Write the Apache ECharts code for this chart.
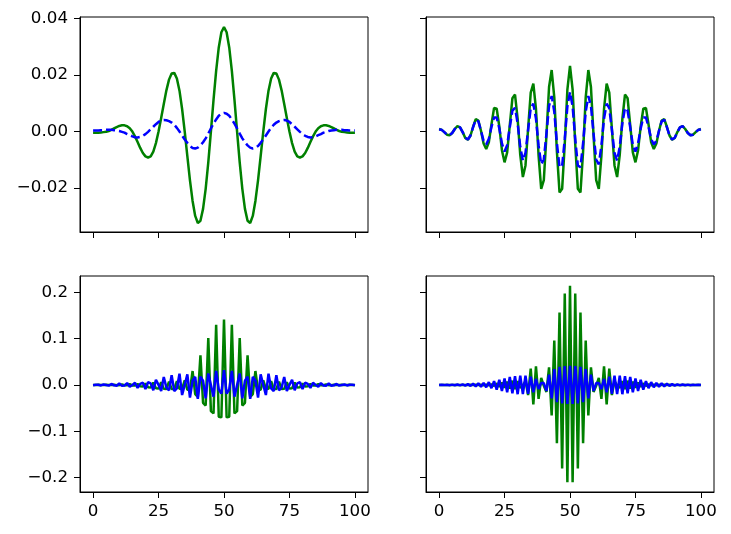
<!DOCTYPE html>
<html>
<head>
<meta charset="utf-8">
<script src="https://cdn.jsdelivr.net/npm/echarts@6/dist/echarts.min.js"></script>
<style>
  html, body { margin: 0; padding: 0; background: #fff; }
  #chart { width: 731px; height: 534px; }
</style>
</head>
<body>
<div id="chart"></div>
<script>
// sample positions shared by all four panels
const xs = [
  0, 1, 2, 3, 4, 5, 6, 7, 8, 9, 10, 11, 12, 13, 14, 15, 16, 17, 18, 19,
  20, 21, 22, 23, 24, 25, 26, 27, 28, 29, 30, 31, 32, 33, 34, 35, 36, 37, 38, 39,
  40, 41, 42, 43, 44, 45, 46, 47, 48, 49, 50, 51, 52, 53, 54, 55, 56, 57, 58, 59,
  60, 61, 62, 63, 64, 65, 66, 67, 68, 69, 70, 71, 72, 73, 74, 75, 76, 77, 78, 79,
  80, 81, 82, 83, 84, 85, 86, 87, 88, 89, 90, 91, 92, 93, 94, 95, 96, 97, 98, 99, 100
];

const xTicks = [0, 25, 50, 75, 100];
const topTicks = [-0.02, 0, 0.02, 0.04];
const bottomTicks = [-0.2, -0.1, 0, 0.1, 0.2];

// top left
const tlGreen = [
  -0.0004, -0.0004, -0.0004, -0.0003, -0.0002, -0.0001, 0.0002, 0.0006, 0.0011, 0.0016,
  0.0020, 0.0022, 0.0022, 0.0019, 0.0012, 0.0000, -0.0017, -0.0037, -0.0058, -0.0076,
  -0.0088, -0.0092, -0.0088, -0.0071, -0.0041, 0.0000, 0.0048, 0.0098, 0.0146, 0.0184,
  0.0206, 0.0208, 0.0188, 0.0145, 0.0080, 0.0000, -0.0087, -0.0173, -0.0246, -0.0299,
  -0.0324, -0.0316, -0.0274, -0.0203, -0.0109, 0.0000, 0.0112, 0.0215, 0.0298, 0.0352,
  0.0370,
  0.0352, 0.0298, 0.0215, 0.0112, 0.0000, -0.0109, -0.0203, -0.0274, -0.0316, -0.0324,
  -0.0299, -0.0246, -0.0173, -0.0087, 0.0000, 0.0080, 0.0145, 0.0188, 0.0208, 0.0206,
  0.0184, 0.0146, 0.0098, 0.0048, 0.0000, -0.0041, -0.0071, -0.0088, -0.0092, -0.0088,
  -0.0076, -0.0058, -0.0037, -0.0017, 0.0000, 0.0012, 0.0019, 0.0022, 0.0022, 0.0020,
  0.0016, 0.0011, 0.0006, 0.0002, -0.0001, -0.0002, -0.0003, -0.0004, -0.0004, -0.0004
];
const tlBlue = [
  0.0004, 0.0004, 0.0004, 0.0005, 0.0005, 0.0006, 0.0006, 0.0006, 0.0005, 0.0004,
  0.0002, -0.0001, -0.0004, -0.0009, -0.0013, -0.0017, -0.0020, -0.0021, -0.0019, -0.0015,
  -0.0009, -0.0001, 0.0008, 0.0017, 0.0026, 0.0034, 0.0039, 0.0041, 0.0040, 0.0037,
  0.0032, 0.0024, 0.0013, 0.0000, -0.0014, -0.0028, -0.0040, -0.0051, -0.0058, -0.0060,
  -0.0057, -0.0049, -0.0038, -0.0024, -0.0007, 0.0011, 0.0028, 0.0043, 0.0056, 0.0063,
  0.0066,
  0.0063, 0.0056, 0.0043, 0.0028, 0.0011, -0.0007, -0.0024, -0.0038, -0.0049, -0.0057,
  -0.0060, -0.0058, -0.0051, -0.0040, -0.0028, -0.0014, 0.0000, 0.0013, 0.0024, 0.0032,
  0.0037, 0.0040, 0.0041, 0.0039, 0.0034, 0.0026, 0.0017, 0.0008, -0.0001, -0.0009,
  -0.0015, -0.0019, -0.0021, -0.0020, -0.0017, -0.0013, -0.0009, -0.0004, -0.0001, 0.0002,
  0.0004, 0.0005, 0.0006, 0.0006, 0.0006, 0.0005, 0.0005, 0.0004, 0.0004, 0.0004
];

// top right
const trGreen = [
  0.0009, 0.0006, -0.0002, -0.0011, -0.0013, -0.0005, 0.0009, 0.0019, 0.0015, -0.0002,
  -0.0023, -0.0029, -0.0014, 0.0017, 0.0044, 0.0039, 0.0003, -0.0042, -0.0062, -0.0038,
  0.0025, 0.0084, 0.0081, 0.0018, -0.0066, -0.0109, -0.0074, 0.0023, 0.0118, 0.0131,
  0.0045, -0.0083, -0.0161, -0.0120, 0.0010, 0.0138, 0.0170, 0.0080, -0.0085, -0.0203,
  -0.0172, -0.0014, 0.0158, 0.0218, 0.0121, -0.0071, -0.0216, -0.0203, -0.0044, 0.0149,
  0.0233,
  0.0149, -0.0044, -0.0203, -0.0216, -0.0071, 0.0121, 0.0218, 0.0158, -0.0014, -0.0172,
  -0.0203, -0.0085, 0.0080, 0.0170, 0.0138, 0.0010, -0.0120, -0.0161, -0.0083, 0.0045,
  0.0131, 0.0118, 0.0023, -0.0074, -0.0109, -0.0066, 0.0018, 0.0081, 0.0084, 0.0025,
  -0.0038, -0.0062, -0.0042, 0.0003, 0.0039, 0.0044, 0.0017, -0.0014, -0.0029, -0.0023,
  -0.0002, 0.0015, 0.0019, 0.0009, -0.0005, -0.0013, -0.0011, -0.0002, 0.0006, 0.0009
];
const trBlue = [
  0.0007, 0.0006, -0.0002, -0.0011, -0.0013, -0.0005, 0.0009, 0.0019, 0.0015, -0.0002,
  -0.0022, -0.0028, -0.0014, 0.0016, 0.0042, 0.0036, 0.0003, -0.0033, -0.0046, -0.0026,
  0.0016, 0.0050, 0.0050, 0.0011, -0.0042, -0.0071, -0.0048, 0.0015, 0.0074, 0.0084,
  0.0029, -0.0054, -0.0103, -0.0076, 0.0006, 0.0083, 0.0099, 0.0046, -0.0049, -0.0116,
  -0.0099, -0.0008, 0.0091, 0.0126, 0.0070, -0.0041, -0.0126, -0.0121, -0.0026, 0.0089,
  0.0140,
  0.0089, -0.0026, -0.0121, -0.0126, -0.0041, 0.0070, 0.0126, 0.0091, -0.0008, -0.0099,
  -0.0116, -0.0049, 0.0046, 0.0099, 0.0083, 0.0006, -0.0076, -0.0103, -0.0054, 0.0029,
  0.0084, 0.0074, 0.0015, -0.0048, -0.0071, -0.0042, 0.0011, 0.0050, 0.0050, 0.0016,
  -0.0026, -0.0046, -0.0033, 0.0003, 0.0036, 0.0042, 0.0016, -0.0014, -0.0028, -0.0022,
  -0.0002, 0.0015, 0.0019, 0.0009, -0.0005, -0.0013, -0.0011, -0.0002, 0.0006, 0.0007
];

// bottom left
const blGreen = [
  -0.0001, -0.0001, 0.0003, -0.0002, -0.0002, 0.0004, -0.0003, -0.0003, 0.0006, -0.0004,
  -0.0005, 0.0010, -0.0006, -0.0007, 0.0015, -0.0010, -0.0012, 0.0020, -0.0030, -0.0035,
  0.0030, -0.0050, -0.0055, 0.0050, -0.0070, -0.0075, 0.0060, -0.0085, -0.0090, 0.0070,
  -0.0090, -0.0090, 0.0080, -0.0085, -0.0085, 0.0100, -0.0100, -0.0120, 0.0300, -0.0200,
  -0.0260, 0.0640, -0.0385, -0.0445, 0.1010, -0.0565, -0.0615, 0.1300, -0.0685, -0.0700,
  0.1410,
  -0.0700, -0.0685, 0.1300, -0.0615, -0.0565, 0.1010, -0.0445, -0.0385, 0.0640, -0.0260,
  -0.0200, 0.0300, -0.0120, -0.0100, 0.0100, -0.0085, -0.0085, 0.0080, -0.0090, -0.0090,
  0.0070, -0.0090, -0.0085, 0.0060, -0.0075, -0.0070, 0.0050, -0.0055, -0.0050, 0.0030,
  -0.0035, -0.0030, 0.0020, -0.0012, -0.0010, 0.0015, -0.0007, -0.0006, 0.0010, -0.0005,
  -0.0004, 0.0006, -0.0003, -0.0003, 0.0004, -0.0002, -0.0002, 0.0003, -0.0001, -0.0001
];
const blBlue = [
  -0.0008, 0.0005, 0.0003, -0.0011, 0.0011, 0.0000, -0.0015, 0.0020, -0.0007, -0.0016,
  0.0030, -0.0020, -0.0012, 0.0040, -0.0037, 0.0000, 0.0046, -0.0062, 0.0022, 0.0047,
  -0.0090, 0.0059, 0.0034, -0.0114, 0.0113, 0.0000, -0.0133, 0.0171, -0.0059, -0.0118,
  0.0210, -0.0132, -0.0074, 0.0243, -0.0218, 0.0000, 0.0227, -0.0272, 0.0090, 0.0175,
  -0.0300, 0.0176, 0.0093, -0.0289, 0.0248, 0.0000, -0.0255, 0.0302, -0.0099, -0.0188,
  0.0320,
  -0.0188, -0.0099, 0.0302, -0.0255, 0.0000, 0.0248, -0.0289, 0.0093, 0.0176, -0.0300,
  0.0175, 0.0090, -0.0272, 0.0227, 0.0000, -0.0218, 0.0243, -0.0074, -0.0132, 0.0210,
  -0.0118, -0.0059, 0.0171, -0.0133, 0.0000, 0.0113, -0.0114, 0.0034, 0.0059, -0.0090,
  0.0047, 0.0022, -0.0062, 0.0046, 0.0000, -0.0037, 0.0040, -0.0012, -0.0020, 0.0030,
  -0.0016, -0.0007, 0.0020, -0.0015, 0.0000, 0.0011, -0.0011, 0.0003, 0.0005, -0.0008
];

// bottom right
const brGreen = [
  0, 0, 0, 0, 0, 0, 0, 0, 0, 0,
  0.0001, -0.0001, 0.0002, -0.0002, 0.0003, -0.0003, 0.0004, -0.0005, 0.0006, -0.0008,
  0.0010, -0.0020, 0.0030, -0.0040, 0.0050, -0.0060, 0.0070, -0.0080, 0.0090, -0.0090,
  0.0080, -0.0060, -0.0010, 0.0080, -0.0220, 0.0350, -0.0420, 0.0400, -0.0300, 0.0150,
  -0.0020, -0.0150, 0.0380, -0.0660, 0.0960, -0.1260, 0.1560, -0.1800, 0.1970, -0.2100,
  0.2140,
  -0.2100, 0.1970, -0.1800, 0.1560, -0.1260, 0.0960, -0.0660, 0.0380, -0.0150, -0.0020,
  0.0150, -0.0300, 0.0400, -0.0420, 0.0350, -0.0220, 0.0080, -0.0010, -0.0060, 0.0080,
  -0.0090, 0.0090, -0.0080, 0.0070, -0.0060, 0.0050, -0.0040, 0.0030, -0.0020, 0.0010,
  -0.0008, 0.0006, -0.0005, 0.0004, -0.0003, 0.0003, -0.0002, 0.0002, -0.0001, 0.0001,
  0, 0, 0, 0, 0, 0, 0, 0, 0, 0
];
const brBlue = [
  -0.0003, 0.0003, -0.0004, 0.0005, -0.0006, 0.0007, -0.0008, 0.0009, -0.0010, 0.0012,
  -0.0015, 0.0018, -0.0020, 0.0025, -0.0030, 0.0035, -0.0040, 0.0045, -0.0050, 0.0060,
  -0.0070, 0.0080, -0.0100, 0.0110, -0.0130, 0.0140, -0.0160, 0.0170, -0.0180, 0.0190,
  -0.0200, 0.0200, -0.0200, 0.0200, -0.0190, 0.0180, -0.0160, 0.0130, -0.0090, 0.0040,
  0.0040, -0.0130, 0.0220, -0.0290, 0.0340, -0.0370, 0.0390, -0.0400, 0.0405, -0.0410,
  0.0410,
  -0.0410, 0.0405, -0.0400, 0.0390, -0.0370, 0.0340, -0.0290, 0.0220, -0.0130, 0.0040,
  0.0040, -0.0090, 0.0130, -0.0160, 0.0180, -0.0190, 0.0200, -0.0200, 0.0200, -0.0200,
  0.0190, -0.0180, 0.0170, -0.0160, 0.0140, -0.0130, 0.0110, -0.0100, 0.0080, -0.0070,
  0.0060, -0.0050, 0.0045, -0.0040, 0.0035, -0.0030, 0.0025, -0.0020, 0.0018, -0.0015,
  0.0012, -0.0010, 0.0009, -0.0008, 0.0007, -0.0006, 0.0005, -0.0004, 0.0003, -0.0003
];

const GREEN = '#008000';
const BLUE = '#0000ff';
const FONT = 'DejaVu Sans';

function pairs(ys) {
  return xs.map((x, i) => [x, ys[i]]);
}

function fmt(v, digits) {
  const s = Math.abs(v).toFixed(digits);
  return (v < -1e-9 ? '\u2212' : '') + s;
}

function xAxisFor(gridIndex, showLabels) {
  return {
    type: 'value',
    gridIndex: gridIndex,
    min: -5,
    max: 105,
    axisLine: { show: true, onZero: false, lineStyle: { color: '#000', width: 1 } },
    splitLine: { show: false },
    axisTick: { show: true, length: 6, customValues: xTicks, lineStyle: { color: '#000', width: 1 } },
    axisLabel: {
      show: showLabels, customValues: xTicks, color: '#000',
      fontFamily: FONT, fontSize: 16.7, margin: 11
    }
  };
}

function yAxisFor(gridIndex, min, max, ticks, digits, showLabels) {
  return {
    type: 'value',
    gridIndex: gridIndex,
    min: min,
    max: max,
    axisLine: { show: true, onZero: false, lineStyle: { color: '#000', width: 1 } },
    splitLine: { show: false },
    axisTick: { show: true, length: 6, customValues: ticks, lineStyle: { color: '#000', width: 1 } },
    axisLabel: {
      show: showLabels, customValues: ticks, color: '#000',
      fontFamily: FONT, fontSize: 16.7, margin: 12,
      formatter: v => fmt(v, digits)
    }
  };
}

function lineSeries(idx, ys, color, dashed) {
  return {
    type: 'line',
    xAxisIndex: idx,
    yAxisIndex: idx,
    data: pairs(ys),
    showSymbol: false,
    smooth: false,
    lineStyle: { color: color, width: 2.5, type: dashed ? [9, 4] : 'solid', cap: 'butt' },
    itemStyle: { color: color }
  };
}

const gridBox = { show: true, borderColor: '#000', borderWidth: 1, backgroundColor: 'transparent' };

const chart = echarts.init(document.getElementById('chart'));
chart.setOption({
  animation: false,
  backgroundColor: '#fff',
  grid: [
    Object.assign({ left: 80, top: 17, width: 288, height: 215 }, gridBox),
    Object.assign({ left: 426, top: 17, width: 288, height: 215 }, gridBox),
    Object.assign({ left: 80, top: 276, width: 288, height: 216 }, gridBox),
    Object.assign({ left: 426, top: 276, width: 288, height: 216 }, gridBox)
  ],
  xAxis: [
    xAxisFor(0, false),
    xAxisFor(1, false),
    xAxisFor(2, true),
    xAxisFor(3, true)
  ],
  yAxis: [
    yAxisFor(0, -0.0356, 0.0406, topTicks, 2, true),
    yAxisFor(1, -0.0356, 0.0406, topTicks, 2, false),
    yAxisFor(2, -0.231, 0.235, bottomTicks, 1, true),
    yAxisFor(3, -0.231, 0.235, bottomTicks, 1, false)
  ],
  series: [
    lineSeries(0, tlGreen, GREEN, false),
    lineSeries(0, tlBlue, BLUE, true),
    lineSeries(1, trGreen, GREEN, false),
    lineSeries(1, trBlue, BLUE, true),
    lineSeries(2, blGreen, GREEN, false),
    lineSeries(2, blBlue, BLUE, false),
    lineSeries(3, brGreen, GREEN, false),
    lineSeries(3, brBlue, BLUE, false)
  ]
});
</script>
</body>
</html>
